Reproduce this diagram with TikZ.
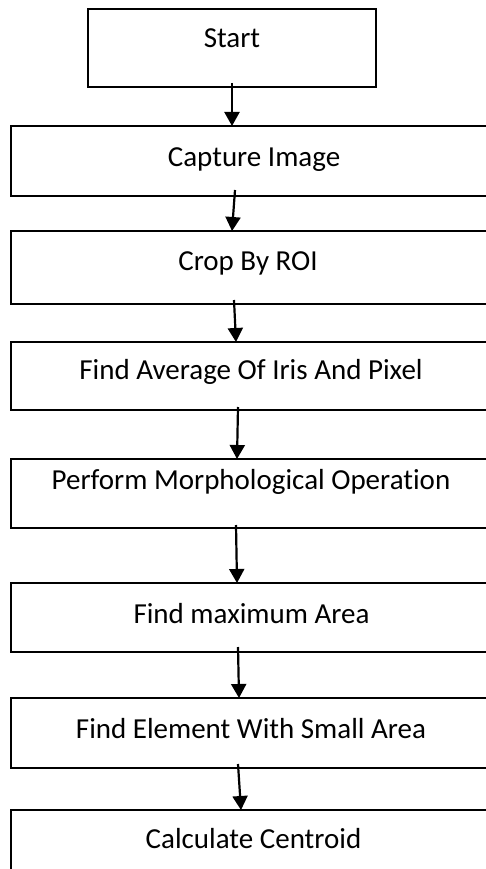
\documentclass[tikz,border=0pt]{standalone}
\usepackage{fontspec}
\setmainfont[Ligatures=NoCommon]{Carlito}
\usetikzlibrary{arrows.meta}
\begin{document}
\begin{tikzpicture}[x=1pt,y=-1pt,
  box/.style={draw, line width=1.5pt, rectangle, inner sep=0pt, outer sep=0pt},
  wide/.style={box, minimum width=480pt},
  lbl/.style={font=\fontsize{29}{34}\selectfont, anchor=base, inner sep=0pt},
  arr/.style={line width=2.2pt, -{Triangle[length=14pt,width=15pt]}}]
\useasboundingbox (0,0) rectangle (486,869);
\clip (0,0) rectangle (486,869);
\node[box, minimum width=288pt, minimum height=78pt] (b0) at (232,48) {};
\node[wide, minimum height=70pt] (b1) at (251,161) {};
\node[wide, minimum height=73pt] (b2) at (251,267.5) {};
\node[wide, minimum height=68pt] (b3) at (251,376) {};
\node[wide, minimum height=69pt] (b4) at (251,493.5) {};
\node[wide, minimum height=69pt] (b5) at (251,617.5) {};
\node[wide, minimum height=70pt] (b6) at (251,733) {};
\node[wide, minimum height=70pt] (b7) at (251,845) {};
\node[lbl] (t0) at (232,48) {Start};
\node[lbl] (t1) at (254,167) {Capture Image};
\node[lbl] (t2) at (248,270) {Crop By ROI};
\node[lbl] (t3) at (251,379) {Find Average Of Iris And Pixel};
\node[lbl] (t4) at (251,489) {Perform Morphological Operation};
\node[lbl] (t5) at (251.5,623) {Find maximum Area};
\node[lbl] (t6) at (251,738) {Find Element With Small Area};
\node[lbl] (t7) at (253.5,848) {Calculate Centroid};
\draw[arr] ([yshift=4pt]b0.south) -- (b1.north -| b0.south);
\draw[arr] ([xshift=-16pt,yshift=6pt]b1.south) -- ([xshift=-19pt]b2.north);
\draw[arr] ([xshift=-17pt,yshift=4pt]b2.south) -- ([xshift=-15pt]b3.north);
\draw[arr] ([xshift=-13pt,yshift=3pt]b3.south) -- ([xshift=-14pt]b4.north);
\draw[arr] ([xshift=-15pt,yshift=3pt]b4.south) -- ([xshift=-14pt]b5.north);
\draw[arr] ([xshift=-13pt,yshift=5pt]b5.south) -- ([xshift=-12pt]b6.north);
\draw[arr] ([xshift=-13pt,yshift=4pt]b6.south) -- ([xshift=-10pt]b7.north);
\end{tikzpicture}
\end{document}
